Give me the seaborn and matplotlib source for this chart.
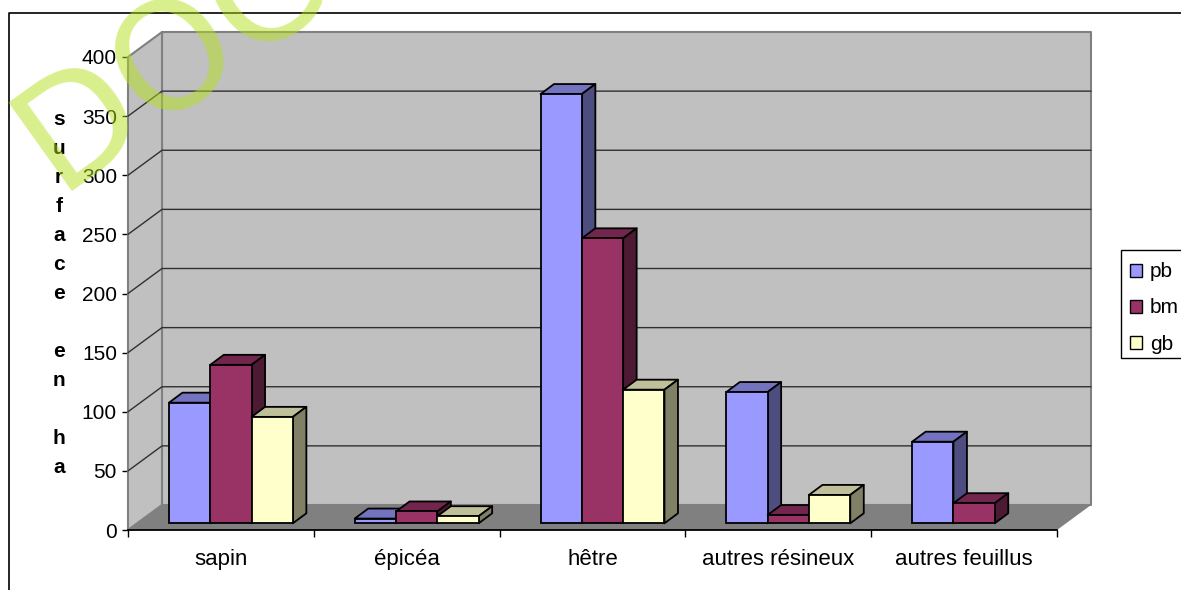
import numpy as np
import pandas as pd
import matplotlib
matplotlib.use("Agg")
import matplotlib.pyplot as plt
import seaborn as sns
from matplotlib.colors import to_rgb
from matplotlib.lines import Line2D
from matplotlib.patches import Patch, Polygon, Rectangle
from matplotlib.transforms import Affine2D, IdentityTransform

# valeurs
essences = ["sapin", "épicéa", "hêtre", "autres résineux", "autres feuillus"]
pb = [102, 4, 363, 111, 69]
bm = [134, 10, 241, 7, 17]
gb = [90, 6, 113, 24, 0]

series = ["pb", "bm", "gb"]
couleurs = ["#9999FF", "#993366", "#FFFFCC"]
graduations = [0, 50, 100, 150, 200, 250, 300, 350, 400]
titre_y = "s\nu\nr\nf\na\nc\ne\n\ne\nn\n\nh\na"

df = pd.DataFrame({"essence": essences, "pb": pb, "bm": bm, "gb": gb})
df = df.melt(id_vars="essence", var_name="classe", value_name="surface")

sns.set_theme(style="white")
plt.rcParams["font.family"] = ["Liberation Sans", "DejaVu Sans"]

W, H = 1181, 590
fig = plt.figure(figsize=(W / 100, H / 100), dpi=100, facecolor="white")
ax = fig.add_axes([128 / W, (H - 530) / H, 929 / W, 473 / H])
ax.patch.set_visible(False)

sns.barplot(data=df, x="essence", y="surface", hue="classe", hue_order=series,
            order=essences, palette=couleurs, width=0.667, gap=0, saturation=1,
            errorbar=None, legend=False, ax=ax)
ax.set_xlim(-0.5, 4.5)
ax.set_ylim(0, 400)

# profondeur du mur du fond et décalage des barres, en pixels
fond = (34, 25)
decal = (10, 6.7)
prof = (13.5, 10)
ident = IdentityTransform()


def px(x, y, d=(0, 0)):
    a, b = ax.transData.transform((x, y))
    return a + d[0], b + d[1]


def poly(points, fc, z, ec="none", lw=0.0):
    ax.add_patch(Polygon(points, closed=True, fc=fc, ec=ec, lw=lw, zorder=z,
                         transform=ident, clip_on=False, joinstyle="round"))


# murs et sol
gris_bord = "#808080"
poly([px(-0.5, 0, fond), px(4.5, 0, fond), px(4.5, 400, fond), px(-0.5, 400, fond)],
     "#C0C0C0", 0.5, gris_bord, 1.5)
poly([px(-0.5, 0), px(-0.5, 0, fond), px(-0.5, 400, fond), px(-0.5, 400)],
     "#C0C0C0", 0.6, gris_bord, 1.5)
poly([px(-0.5, 0), px(4.5, 0), px(4.5, 0, fond), px(-0.5, 0, fond)], "#808080", 0.7)

for t in graduations[1:-1]:
    xa, ya = px(-0.5, t)
    xb, yb = px(-0.5, t, fond)
    xc, yc = px(4.5, t, fond)
    ax.add_line(Line2D([xa, xb, xc], [ya, yb, yc], color="#303030", lw=1.0,
                       transform=ident, clip_on=False, zorder=0.8))

# barres en relief : dessus, côté puis face avant
z = 3
for i in range(len(essences)):
    for conteneur, coul in zip(ax.containers, couleurs):
        barre = conteneur[i]
        h = barre.get_height()
        if h == 0:
            barre.set_visible(False)
            continue
        rgb = np.array(to_rgb(coul))
        x0, x1 = barre.get_x(), barre.get_x() + barre.get_width()
        a, b = px(x0, 0, decal), px(x1, 0, decal)
        c, d = px(x1, h, decal), px(x0, h, decal)
        poly([d, c, (c[0] + prof[0], c[1] + prof[1]), (d[0] + prof[0], d[1] + prof[1])],
             rgb * 0.75, z, "black", 1.3)
        poly([b, c, (c[0] + prof[0], c[1] + prof[1]), (b[0] + prof[0], b[1] + prof[1])],
             rgb * 0.5, z, "black", 1.3)
        barre.set_transform(ax.transData + Affine2D().translate(*decal))
        barre.set_edgecolor("black")
        barre.set_linewidth(1.3)
        barre.set_zorder(z + 0.5)
        barre.set_clip_on(False)
        z += 1

# axes
sns.despine(ax=ax, left=True, top=True, right=True)
ax.spines["bottom"].set_color("black")
ax.spines["bottom"].set_linewidth(1.3)
ax.spines["bottom"].set_zorder(1)
ax.set_yticks(graduations)
ax.set_xticks(np.arange(-0.5, 5), minor=True)
ax.tick_params(axis="x", which="major", length=0, pad=13.5, labelsize=16, labelcolor="black")
ax.tick_params(axis="x", which="minor", bottom=True, length=5, width=1, color="black")
ax.tick_params(axis="y", left=True, length=4.5, width=1, color="black", pad=3.5,
               labelsize=15, labelcolor="black")
ax.set_xlabel("")
ax.set_ylabel(titre_y, rotation=0, ha="center", va="center", fontsize=15,
              fontweight="bold", color="black", linespacing=1.67)
ax.yaxis.set_label_coords(59 / W, 1 - 293.5 / H, transform=fig.transFigure)

# légende : le cadre est tracé à part car il sort de l'image à droite
fig.add_artist(Rectangle((1121 / W, 1 - 358 / H), 70 / W, 108 / H, fc="white", ec="black",
                         lw=1.0, transform=fig.transFigure, zorder=-1))
poignees = [Patch(fc=c, ec="black", lw=1.0) for c in couleurs]
ax.legend(poignees, series, loc="upper left", bbox_to_anchor=(1121 / W, 1 - 253 / H),
          bbox_transform=fig.transFigure, fontsize=15, frameon=False, labelcolor="black",
          borderaxespad=0, borderpad=0.45, handlelength=0.58, handleheight=0.58,
          handletextpad=0.35, labelspacing=0.82)

# cadre du graphique
fig.add_artist(Line2D([9 / W, 9 / W, 1], [0, 1 - 13 / H, 1 - 13 / H], color="black", lw=1.2))

# filigrane
fig.text(57 / W, 1 - 191 / H, "DOC", fontsize=108, family="DejaVu Sans", color="#B4E01D",
         alpha=0.5, rotation=35.6, rotation_mode="anchor", ha="left", va="baseline", zorder=50)

fig.savefig("out.png", dpi=100)
